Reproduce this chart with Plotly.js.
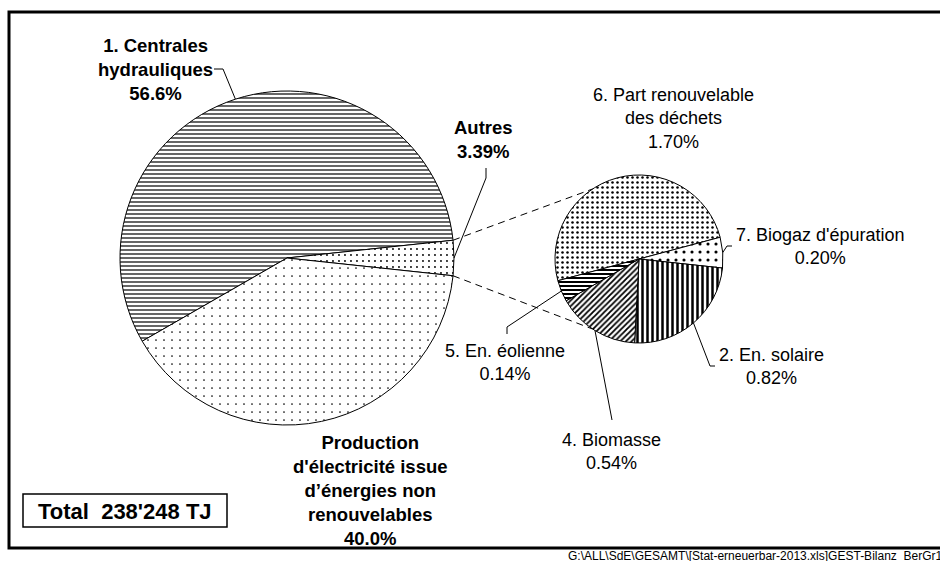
<!DOCTYPE html>
<html><head><meta charset="utf-8">
<script src="https://cdn.plot.ly/plotly-3.0.1.min.js"></script>
<style>html,body{margin:0;padding:0;background:#fff}</style>
</head><body><div id="chart" style="width:940px;height:561px"></div>
<script>
// ---- data ----
const mainLabels = ['1. Centrales hydrauliques', 'Autres', "Production d'électricité issue d’énergies non renouvelables"];
const mainLines = [['1. Centrales', 'hydrauliques'], ['Autres'], ['Production', "d'électricité issue", 'd’énergies non', 'renouvelables']];
const mainValues = [56.6, 3.39, 40.0];
const mainPct = ['56.6%', '3.39%', '40.0%'];
const subLabels = ['6. Part renouvelable des déchets', "7. Biogaz d'épuration", '2. En. solaire', '4. Biomasse', '5. En. éolienne'];
const subLines = [['6. Part renouvelable', 'des déchets'], ["7. Biogaz d'épuration"], ['2. En. solaire'], ['4. Biomasse'], ['5. En. éolienne']];
const subValues = [1.70, 0.20, 0.82, 0.54, 0.14];
const subPct = ['1.70%', '0.20%', '0.82%', '0.54%', '0.14%'];
const totalLabel = "Total\u00a0\u00a0238'248 TJ";
const sourceNote = "G:\\ALL\\SdE\\GESAMT\\[Stat-erneuerbar-2013.xls]GEST-Bilanz_BerGr1";

// ---- layout geometry (pixels) ----
const W = 940, H = 561;
const X = x => x / W, Y = y => 1 - y / H;
const big = {cx: 287, cy: 258, r: 167};
const small = {cx: 639, cy: 259, r: 84};
const FONT = 'Liberation Sans, Arial, sans-serif';

const sum = a => a.reduce((s, v) => s + v, 0);
const mainTotal = sum(mainValues);
const bigRotation = 90 - (mainValues[1] / 2 + mainValues[0]) / mainTotal * 360;
const smallRotation = -105;

function domainOf(p) {
  return {x: [X(p.cx - p.r), X(p.cx + p.r)], y: [Y(p.cy + p.r), Y(p.cy - p.r)]};
}
function edge(p, mathDeg) {
  const a = mathDeg * Math.PI / 180;
  return [p.cx + p.r * Math.cos(a), p.cy - p.r * Math.sin(a)];
}
function sliceAngles(values, rotation) {
  const tot = sum(values); let cum = 0;
  return values.map(v => {
    const s = rotation + cum / tot * 360; cum += v;
    const e = rotation + cum / tot * 360;
    return {start: 90 - s, end: 90 - e, mid: 90 - (s + e) / 2};
  });
}
const bigAng = sliceAngles(mainValues, bigRotation);
const smallAng = sliceAngles(subValues, smallRotation);

const traces = [
  {type: 'pie', values: mainValues, labels: mainLabels, sort: false, direction: 'clockwise',
   rotation: bigRotation, textinfo: 'none', hoverinfo: 'none', domain: domainOf(big),
   marker: {colors: ['white', 'white', 'white'], line: {color: 'black', width: 1},
     pattern: {shape: ['-', '.', '.'], size: [4, 6, 8], solidity: [0.3, 0.08, 0.035],
       fgcolor: 'black', bgcolor: 'white', fillmode: 'replace'}}},
  {type: 'pie', values: subValues, labels: subLabels, sort: false, direction: 'clockwise',
   rotation: smallRotation, textinfo: 'none', hoverinfo: 'none', domain: domainOf(small),
   marker: {colors: ['white', 'white', 'white', 'white', 'white'], line: {color: 'black', width: 1},
     pattern: {shape: ['.', '.', '|', '/', '-'], size: [5, 8, 5, 4, 4], solidity: [0.2, 0.12, 0.5, 0.45, 0.5],
       fgcolor: 'black', bgcolor: 'white', fillmode: 'replace'}}}
];

// label positions (pixel centres) and leader elbows
const mainPos = [[155, 70], [483, 140], [370, 490]];
const mainLead = [[[223, 69], [214, 69]], [[486, 178], [486, 168]], null];
const subPos = [[673, 118], [820, 246], [771, 366], [611, 451], [505, 362]];
const subLead = [null, [[727, 246], [732, 246]], [[710, 366], [715, 366]], [[612, 420]], [[507, 327], [507, 334]]];

const annotations = [], shapes = [];
function addLabel(lines, pct, pos, bold) {
  annotations.push({xref: 'paper', yref: 'paper', x: X(pos[0]), y: Y(pos[1]), xanchor: 'center', yanchor: 'middle',
    showarrow: false, align: 'center', text: lines.concat([pct]).join('<br>'),
    font: {family: FONT, size: bold ? 18.5 : 18, color: 'black', weight: bold ? 'bold' : 'normal'}});
}
function addLeader(p, ang, pts) {
  if (!pts) return;
  const s = edge(p, ang);
  let d = 'M' + X(s[0]) + ',' + Y(s[1]);
  pts.forEach(q => { d += ' L' + X(q[0]) + ',' + Y(q[1]); });
  shapes.push({type: 'path', xref: 'paper', yref: 'paper', path: d, line: {color: 'black', width: 1}});
}
mainLines.forEach((l, i) => { addLabel(l, mainPct[i], mainPos[i], true); addLeader(big, bigAng[i].mid, mainLead[i]); });
subLines.forEach((l, i) => { addLabel(l, subPct[i], subPos[i], false); addLeader(small, smallAng[i].mid, subLead[i]); });

// connector lines from "Autres" slice to the secondary pie
const connAngle = 123.5;
[[bigAng[1].start, connAngle], [bigAng[1].end, -connAngle]].forEach(([a, b]) => {
  const s = edge(big, a), e = edge(small, b);
  shapes.push({type: 'line', xref: 'paper', yref: 'paper', x0: X(s[0]), y0: Y(s[1]), x1: X(e[0]), y1: Y(e[1]),
    line: {color: 'black', width: 1, dash: '7px,5px'}});
});

// frame and total box
shapes.push({type: 'rect', xref: 'paper', yref: 'paper', x0: X(9), x1: X(960), y0: Y(548), y1: Y(12), line: {color: 'black', width: 3}});
shapes.push({type: 'rect', xref: 'paper', yref: 'paper', x0: X(23), x1: X(227), y0: Y(527), y1: Y(494), line: {color: 'black', width: 1.5}});
annotations.push({xref: 'paper', yref: 'paper', x: X(125), y: Y(511), xanchor: 'center', yanchor: 'middle', showarrow: false,
  text: totalLabel, font: {family: FONT, size: 22, color: 'black', weight: 'bold'}});
annotations.push({xref: 'paper', yref: 'paper', x: X(566), y: Y(556), xanchor: 'left', yanchor: 'middle', showarrow: false,
  text: sourceNote, font: {family: FONT, size: 12, color: 'black'}});

Plotly.newPlot('chart', traces, {
  width: W, height: H, margin: {l: 0, r: 0, t: 0, b: 0}, showlegend: false,
  paper_bgcolor: 'white', plot_bgcolor: 'white', shapes: shapes, annotations: annotations
}, {staticPlot: true, displayModeBar: false});
</script></body></html>
